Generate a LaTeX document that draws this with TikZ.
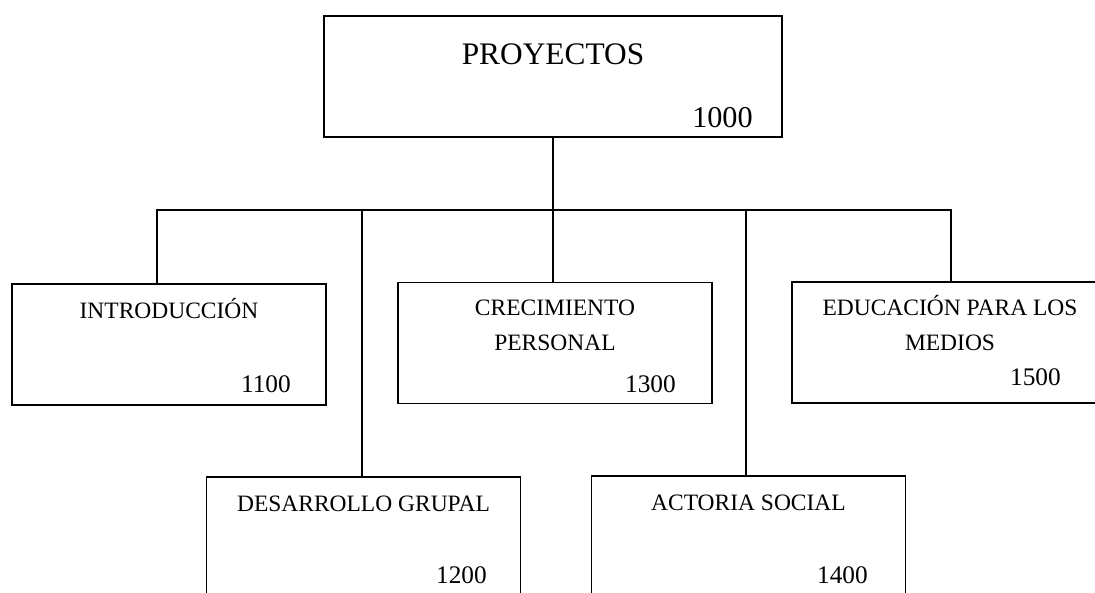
\documentclass[tikz,border=0pt]{standalone}
\usepackage{fontspec}
\setmainfont{Liberation Serif}
\tikzset{
  caja/.style={draw, line width=1pt, rectangle, minimum width=7.85cm, minimum height=3.025cm, inner sep=0pt},
  titulo/.style={font=\fontsize{16.7}{24.5}\selectfont, align=center, inner sep=0pt, anchor=base},
  numero/.style={font=\fontsize{18}{21}\selectfont, inner sep=0pt, anchor=base east},
  rama/.style={line width=1pt}
}
\begin{document}
\begin{tikzpicture}[x=0.025cm, y=-0.025cm]
    \useasboundingbox (0,0) rectangle (1095,592);
    \clip (0,0) rectangle (1095,592);
    % cajas
    \node [caja, minimum width=11.45cm] (proy) at (553,76.5) {};
    \node [caja] (intro) at (169,344.5) {};
    \node [caja] (crec)  at (555,343) {};
    \node [caja] (educ)  at (949,342.5) {};
    \node [caja] (desa)  at (363.5,537.5) {};
    \node [caja] (acto)  at (748.5,536.5) {};
    % ramas
    \coordinate (bus) at (553,210);
    \draw [rama] (proy.south) -- (bus);
    \draw [rama] (bus) -| ([xshift=-0.3cm]intro.north);
    \draw [rama] (bus) -| ([xshift=-0.04cm]desa.north);
    \draw [rama] (bus) -- (crec.north -| bus);
    \draw [rama] (bus) -| ([xshift=-0.06cm]acto.north);
    \draw [rama] (bus) -| ([xshift=0.05cm]educ.north);
    % textos
    \node [titulo, font=\fontsize{22.3}{26}\selectfont] (tproy) at (553,64) {PROYECTOS};
    \node [numero, font=\fontsize{21.5}{24}\selectfont] (nproy) at (753,127) {1000};
    \node [titulo] (tintro) at (169,318) {INTRODUCCIÓN};
    \node [numero] (nintro) at (291,392) {1100};
    \node [titulo] (tcrec1) at (555,315) {CRECIMIENTO};
    \node [titulo] (tcrec2) at (555,350) {PERSONAL};
    \node [numero] (ncrec) at (676,392) {1300};
    \node [titulo] (teduc1) at (950,315) {EDUCACIÓN PARA LOS};
    \node [titulo] (teduc2) at (950,350) {MEDIOS};
    \node [numero] (neduc) at (1061,385) {1500};
    \node [titulo] (tdesa) at (363.5,511) {DESARROLLO GRUPAL};
    \node [numero] (ndesa) at (487,583) {1200};
    \node [titulo] (tacto) at (748.5,510) {ACTORIA SOCIAL};
    \node [numero] (nacto) at (868,583) {1400};
\end{tikzpicture}
\end{document}
